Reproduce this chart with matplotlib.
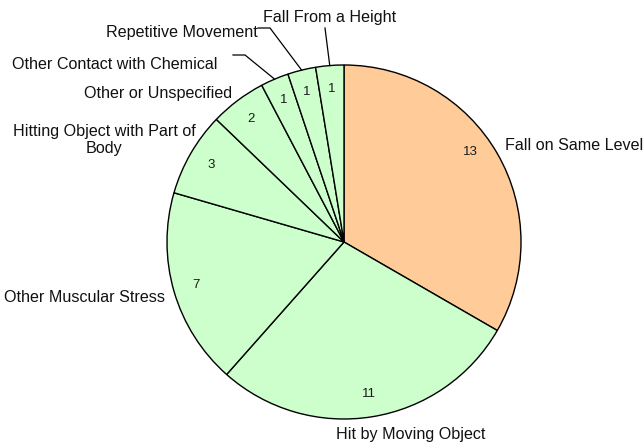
import matplotlib.pyplot as plt
import numpy as np

plt.rcParams['font.family'] = ['Liberation Sans', 'DejaVu Sans']

# Datos del gráfico
categorias = ['Fall on Same Level', 'Hit by Moving Object', 'Other Muscular Stress',
              'Hitting Object with Part of\nBody', 'Other or Unspecified',
              'Other Contact with Chemical', 'Repetitive Movement', 'Fall From a Height']
valores = [13, 11, 7, 3, 2, 1, 1, 1]
colores = ['#FFCC99'] + ['#CCFFCC'] * 7

W, H = 643, 443
fig = plt.figure(figsize=(W / 100, H / 100), dpi=100)
ax = fig.add_axes([0, 0, 1, 1])

cx, cy, r = 344, H - 242, 177
total = sum(valores)

wedges, textos, numeros = ax.pie(
    valores, colors=colores, startangle=90, counterclock=False,
    center=(cx, cy), radius=r, frame=True,
    wedgeprops=dict(edgecolor='black', linewidth=1),
    autopct=lambda p: f'{int(round(p * total / 100))}', pctdistance=0.87,
    textprops=dict(fontsize=9.5, color='#1a1a1a'))
# el "13" va un poco más arriba en el original
numeros[0].set_position((470, H - 152))

ax.set_xlim(0, W)
ax.set_ylim(0, H)
ax.set_aspect('equal')
ax.axis('off')

# Ángulo medio de cada sector (grados, sentido horario desde arriba)
acum = np.cumsum([0] + valores)
medios = 90 - 360 * (acum[:-1] + acum[1:]) / 2 / total

def borde(i):
    a = np.deg2rad(medios[i])
    return cx + r * np.cos(a), cy + r * np.sin(a)

# Etiquetas de categoría (coordenadas desde arriba)
pos = [(505, 145, 'left'), (411, 435, 'center'), (165, 298, 'right'),
       (104, 140, 'center'), (232, 93, 'right'), (218, 64, 'right'),
       (258, 32, 'right'), (330, 17, 'center')]
for txt, (x, y, ha) in zip(categorias, pos):
    ax.text(x, H - y, txt, ha=ha, va='center', fontsize=11.6,
            color='#111111', linespacing=1.1, multialignment='center')

# Líneas guía para los sectores pequeños
guias = {5: [(233, 55), (245, 55)], 6: [(258, 28), (270, 28)], 7: [(325, 28)]}
for i, pts in guias.items():
    ex, ey = borde(i)
    xs = [p[0] for p in pts] + [ex]
    ys = [H - p[1] for p in pts] + [ey]
    ax.plot(xs, ys, color='black', linewidth=0.9)

plt.savefig('out.png', dpi=100)
